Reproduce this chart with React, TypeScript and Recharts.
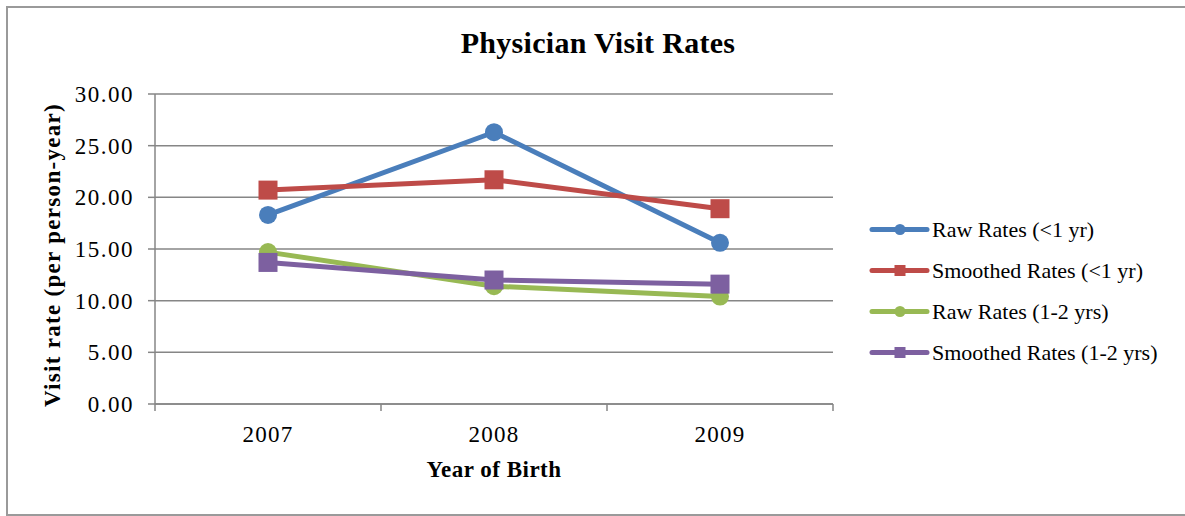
import React from 'react';
import { LineChart, Line, XAxis, YAxis, CartesianGrid, Legend } from 'recharts';

// ---- data ----
const categories = ['2007', '2008', '2009'];
const rawUnder1 = [18.3, 26.3, 15.6];
const smoothUnder1 = [20.7, 21.7, 18.9];
const raw1to2 = [14.7, 11.4, 10.4];
const smooth1to2 = [13.7, 12.0, 11.6];
const yTicks = [0, 5, 10, 15, 20, 25, 30];
const seriesNames = [
  'Raw Rates (<1 yr)',
  'Smoothed Rates (<1 yr)',
  'Raw Rates (1-2 yrs)',
  'Smoothed Rates (1-2 yrs)',
];
const titleText = 'Physician Visit Rates';
const xTitle = 'Year of Birth';
const yTitle = 'Visit rate (per person-year)';

// ---- styling ----
const FONT = "'Liberation Serif', 'Times New Roman', serif";
const GRID = '#868686';
const BLUE = '#4A7EBB';
const RED = '#BE4B48';
const GREEN = '#98B954';
const PURPLE = '#7D60A0';

const data = categories.map((c, i) => ({
  pos: i + 0.5,
  year: c,
  raw1: rawUnder1[i],
  sm1: smoothUnder1[i],
  raw2: raw1to2[i],
  sm2: smooth1to2[i],
}));
const xTicks = [0, 0.5, 1, 1.5, 2, 2.5, 3];

const XTick = (props: any) => {
  const { x, y, payload } = props;
  const v = payload.value;
  if (Number.isInteger(v)) {
    return <line x1={x} y1={y} x2={x} y2={y + 7} stroke={GRID} strokeWidth={1.5} />;
  }
  const label = categories[Math.floor(v)];
  return (
    <text x={x} y={y + 38} textAnchor="middle" fontFamily={FONT} fontSize={23} letterSpacing={1.3} fill="#000">
      {label}
    </text>
  );
};

const squareDot = (color: string, size: number) => (props: any) => {
  const { cx, cy, index } = props;
  if (cx == null || cy == null) return <g key={`sq-${index}`} />;
  return <rect key={`sq-${index}`} x={cx - size / 2} y={cy - size / 2} width={size} height={size} fill={color} />;
};

const renderLegend = (props: any) => {
  const payload = [...(props.payload || [])].sort(
    (a: any, b: any) => seriesNames.indexOf(a.value) - seriesNames.indexOf(b.value)
  );
  return (
    <div>
      {payload.map((entry: any, i: number) => (
        <div key={i} style={{ display: 'flex', alignItems: 'center', height: 41 }}>
          <svg width={64} height={41} style={{ display: 'block' }}>
            <line x1={4} y1={20.5} x2={59} y2={20.5} stroke={entry.color} strokeWidth={5} strokeLinecap="round" />
            {entry.type === 'square' ? (
              <rect x={32 - 5.5} y={20.5 - 5.5} width={11} height={11} fill={entry.color} />
            ) : (
              <circle cx={32} cy={20.5} r={5.5} fill={entry.color} />
            )}
          </svg>
          <span style={{ fontFamily: FONT, fontSize: 22, lineHeight: '41px', color: '#000', whiteSpace: 'nowrap' }}>
            {entry.value}
          </span>
        </div>
      ))}
    </div>
  );
};

export default function App() {
  return (
    <div style={{ position: 'absolute', left: 0, top: 0, width: 1185, height: 516, overflow: 'hidden', background: '#fff' }}>
      <div
        style={{
          position: 'absolute',
          left: 6,
          top: 6,
          width: 1179,
          height: 510,
          borderTop: '2px solid #9a9a9a',
          borderLeft: '2px solid #9a9a9a',
          borderBottom: '2px solid #9a9a9a',
          boxSizing: 'border-box',
        }}
      />
      <div style={{ position: 'absolute', left: 0, top: 0 }}>
        <LineChart width={1185} height={516} data={data} margin={{ top: 94, right: 352, bottom: 72, left: 0 }}>
          <CartesianGrid horizontal vertical={false} stroke={GRID} strokeWidth={1.5} />
          <XAxis
            dataKey="pos"
            type="number"
            domain={[0, 3]}
            ticks={xTicks}
            interval={0}
            tick={<XTick />}
            tickLine={false}
            tickSize={0}
            tickMargin={0}
            axisLine={{ stroke: GRID, strokeWidth: 1.5 }}
            height={40}
            allowDecimals
          />
          <YAxis
            type="number"
            domain={[0, 30]}
            ticks={yTicks}
            interval={0}
            width={155}
            tickFormatter={(v: number) => v.toFixed(2)}
            tick={{ fontFamily: FONT, fontSize: 23, fill: '#000', letterSpacing: 1.5 }}
            tickLine={{ stroke: GRID, strokeWidth: 1.5 }}
            tickSize={7}
            tickMargin={14}
            axisLine={{ stroke: GRID, strokeWidth: 1.5 }}
          />
          <Line
            name={seriesNames[0]}
            dataKey="raw1"
            stroke={BLUE}
            strokeWidth={5}
            strokeLinejoin="round"
            legendType="circle"
            dot={{ r: 9, fill: BLUE, stroke: BLUE, strokeWidth: 0 }}
            isAnimationActive={false}
          />
          <Line
            name={seriesNames[1]}
            dataKey="sm1"
            stroke={RED}
            strokeWidth={5}
            strokeLinejoin="round"
            legendType="square"
            dot={squareDot(RED, 19)}
            isAnimationActive={false}
          />
          <Line
            name={seriesNames[2]}
            dataKey="raw2"
            stroke={GREEN}
            strokeWidth={5}
            strokeLinejoin="round"
            legendType="circle"
            dot={{ r: 9, fill: GREEN, stroke: GREEN, strokeWidth: 0 }}
            isAnimationActive={false}
          />
          <Line
            name={seriesNames[3]}
            dataKey="sm2"
            stroke={PURPLE}
            strokeWidth={5}
            strokeLinejoin="round"
            legendType="square"
            dot={squareDot(PURPLE, 19)}
            isAnimationActive={false}
          />
          <Legend
            layout="horizontal"
            align="center"
            verticalAlign="middle"
            content={renderLegend}
            wrapperStyle={{ position: 'absolute', left: 868, top: 209, width: 310, height: 170 }}
          />
        </LineChart>
      </div>
      <div
        style={{
          position: 'absolute',
          left: 598,
          top: 28,
          transform: 'translateX(-50%)',
          fontFamily: FONT,
          fontWeight: 'bold',
          fontSize: 30,
          lineHeight: '30px',
          letterSpacing: 0.3,
          whiteSpace: 'nowrap',
          color: '#000',
        }}
      >
        {titleText}
      </div>
      <div
        style={{
          position: 'absolute',
          left: 494,
          top: 458,
          transform: 'translateX(-50%)',
          fontFamily: FONT,
          fontWeight: 'bold',
          fontSize: 23,
          lineHeight: '23px',
          letterSpacing: 0.5,
          whiteSpace: 'nowrap',
          color: '#000',
        }}
      >
        {xTitle}
      </div>
      <div
        style={{
          position: 'absolute',
          left: 52,
          top: 255,
          transform: 'translate(-50%, -50%) rotate(-90deg)',
          fontFamily: FONT,
          fontWeight: 'bold',
          fontSize: 23,
          lineHeight: '23px',
          letterSpacing: 1.3,
          whiteSpace: 'nowrap',
          color: '#000',
        }}
      >
        {yTitle}
      </div>
    </div>
  );
}
